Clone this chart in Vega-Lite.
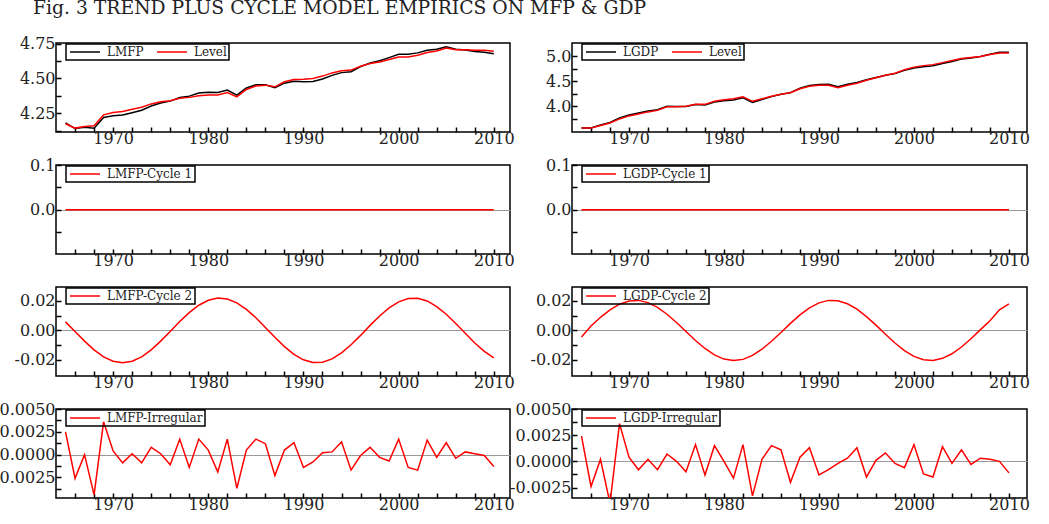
{
  "$schema": "https://vega.github.io/schema/vega-lite/v6.json",
  "autosize": {"type": "pad"},
  "padding": {"left": -8, "top": -1, "right": 0, "bottom": 0},
  "background": "white",
  "title": {"text": "Fig. 3 TREND PLUS CYCLE MODEL EMPIRICS ON MFP & GDP", "anchor": "start", "frame": "group", "font": "DejaVu Serif", "fontSize": 18.75, "fontWeight": "normal", "color": "#222222", "dx": -23, "offset": 17},
  "datasets": {
    "mfp": [
      {"year":1965,"LMFP":4.181,"Level":4.174,"LMFP-Cycle 1":0,"LMFP-Cycle 2":0.0058,"LMFP-Irregular":0.0025},
      {"year":1966,"LMFP":4.140,"Level":4.143,"LMFP-Cycle 1":0,"LMFP-Cycle 2":-0.0007,"LMFP-Irregular":-0.0026},
      {"year":1967,"LMFP":4.149,"Level":4.155,"LMFP-Cycle 1":0,"LMFP-Cycle 2":-0.0073,"LMFP-Irregular":0.0000},
      {"year":1968,"LMFP":4.142,"Level":4.160,"LMFP-Cycle 1":0,"LMFP-Cycle 2":-0.0132,"LMFP-Irregular":-0.0044},
      {"year":1969,"LMFP":4.220,"Level":4.238,"LMFP-Cycle 1":0,"LMFP-Cycle 2":-0.0180,"LMFP-Irregular":0.0036},
      {"year":1970,"LMFP":4.232,"Level":4.255,"LMFP-Cycle 1":0,"LMFP-Cycle 2":-0.0210,"LMFP-Irregular":0.0004},
      {"year":1971,"LMFP":4.238,"Level":4.262,"LMFP-Cycle 1":0,"LMFP-Cycle 2":-0.0220,"LMFP-Irregular":-0.0009},
      {"year":1972,"LMFP":4.254,"Level":4.279,"LMFP-Cycle 1":0,"LMFP-Cycle 2":-0.0210,"LMFP-Irregular":0.0001},
      {"year":1973,"LMFP":4.271,"Level":4.293,"LMFP-Cycle 1":0,"LMFP-Cycle 2":-0.0180,"LMFP-Irregular":-0.0009},
      {"year":1974,"LMFP":4.302,"Level":4.317,"LMFP-Cycle 1":0,"LMFP-Cycle 2":-0.0132,"LMFP-Irregular":0.0008},
      {"year":1975,"LMFP":4.324,"Level":4.333,"LMFP-Cycle 1":0,"LMFP-Cycle 2":-0.0073,"LMFP-Irregular":0.0001},
      {"year":1976,"LMFP":4.337,"Level":4.340,"LMFP-Cycle 1":0,"LMFP-Cycle 2":-0.0007,"LMFP-Irregular":-0.0011},
      {"year":1977,"LMFP":4.363,"Level":4.357,"LMFP-Cycle 1":0,"LMFP-Cycle 2":0.0060,"LMFP-Irregular":0.0017},
      {"year":1978,"LMFP":4.373,"Level":4.364,"LMFP-Cycle 1":0,"LMFP-Cycle 2":0.0121,"LMFP-Irregular":-0.0014},
      {"year":1979,"LMFP":4.395,"Level":4.376,"LMFP-Cycle 1":0,"LMFP-Cycle 2":0.0171,"LMFP-Irregular":0.0017},
      {"year":1980,"LMFP":4.400,"Level":4.381,"LMFP-Cycle 1":0,"LMFP-Cycle 2":0.0205,"LMFP-Irregular":0.0005},
      {"year":1981,"LMFP":4.399,"Level":4.381,"LMFP-Cycle 1":0,"LMFP-Cycle 2":0.0220,"LMFP-Irregular":-0.0019},
      {"year":1982,"LMFP":4.417,"Level":4.398,"LMFP-Cycle 1":0,"LMFP-Cycle 2":0.0213,"LMFP-Irregular":0.0017},
      {"year":1983,"LMFP":4.380,"Level":4.367,"LMFP-Cycle 1":0,"LMFP-Cycle 2":0.0187,"LMFP-Irregular":-0.0037},
      {"year":1984,"LMFP":4.432,"Level":4.421,"LMFP-Cycle 1":0,"LMFP-Cycle 2":0.0143,"LMFP-Irregular":0.0005},
      {"year":1985,"LMFP":4.454,"Level":4.445,"LMFP-Cycle 1":0,"LMFP-Cycle 2":0.0086,"LMFP-Irregular":0.0017},
      {"year":1986,"LMFP":4.455,"Level":4.452,"LMFP-Cycle 1":0,"LMFP-Cycle 2":0.0020,"LMFP-Irregular":0.0012},
      {"year":1987,"LMFP":4.434,"Level":4.440,"LMFP-Cycle 1":0,"LMFP-Cycle 2":-0.0047,"LMFP-Irregular":-0.0023},
      {"year":1988,"LMFP":4.466,"Level":4.476,"LMFP-Cycle 1":0,"LMFP-Cycle 2":-0.0110,"LMFP-Irregular":0.0005},
      {"year":1989,"LMFP":4.480,"Level":4.493,"LMFP-Cycle 1":0,"LMFP-Cycle 2":-0.0163,"LMFP-Irregular":0.0013},
      {"year":1990,"LMFP":4.477,"Level":4.495,"LMFP-Cycle 1":0,"LMFP-Cycle 2":-0.0200,"LMFP-Irregular":-0.0014},
      {"year":1991,"LMFP":4.478,"Level":4.500,"LMFP-Cycle 1":0,"LMFP-Cycle 2":-0.0218,"LMFP-Irregular":-0.0008},
      {"year":1992,"LMFP":4.496,"Level":4.517,"LMFP-Cycle 1":0,"LMFP-Cycle 2":-0.0216,"LMFP-Irregular":0.0002},
      {"year":1993,"LMFP":4.522,"Level":4.540,"LMFP-Cycle 1":0,"LMFP-Cycle 2":-0.0194,"LMFP-Irregular":0.0003},
      {"year":1994,"LMFP":4.542,"Level":4.555,"LMFP-Cycle 1":0,"LMFP-Cycle 2":-0.0153,"LMFP-Irregular":0.0014},
      {"year":1995,"LMFP":4.549,"Level":4.560,"LMFP-Cycle 1":0,"LMFP-Cycle 2":-0.0098,"LMFP-Irregular":-0.0017},
      {"year":1996,"LMFP":4.585,"Level":4.588,"LMFP-Cycle 1":0,"LMFP-Cycle 2":-0.0034,"LMFP-Irregular":-0.0001},
      {"year":1997,"LMFP":4.611,"Level":4.607,"LMFP-Cycle 1":0,"LMFP-Cycle 2":0.0034,"LMFP-Irregular":0.0008},
      {"year":1998,"LMFP":4.627,"Level":4.619,"LMFP-Cycle 1":0,"LMFP-Cycle 2":0.0098,"LMFP-Irregular":-0.0003},
      {"year":1999,"LMFP":4.650,"Level":4.636,"LMFP-Cycle 1":0,"LMFP-Cycle 2":0.0153,"LMFP-Irregular":-0.0007},
      {"year":2000,"LMFP":4.674,"Level":4.655,"LMFP-Cycle 1":0,"LMFP-Cycle 2":0.0194,"LMFP-Irregular":0.0017},
      {"year":2001,"LMFP":4.674,"Level":4.655,"LMFP-Cycle 1":0,"LMFP-Cycle 2":0.0216,"LMFP-Irregular":-0.0014},
      {"year":2002,"LMFP":4.684,"Level":4.667,"LMFP-Cycle 1":0,"LMFP-Cycle 2":0.0218,"LMFP-Irregular":-0.0017},
      {"year":2003,"LMFP":4.703,"Level":4.686,"LMFP-Cycle 1":0,"LMFP-Cycle 2":0.0200,"LMFP-Irregular":0.0016},
      {"year":2004,"LMFP":4.710,"Level":4.698,"LMFP-Cycle 1":0,"LMFP-Cycle 2":0.0162,"LMFP-Irregular":-0.0003},
      {"year":2005,"LMFP":4.727,"Level":4.719,"LMFP-Cycle 1":0,"LMFP-Cycle 2":0.0110,"LMFP-Irregular":0.0013},
      {"year":2006,"LMFP":4.710,"Level":4.707,"LMFP-Cycle 1":0,"LMFP-Cycle 2":0.0047,"LMFP-Irregular":-0.0004},
      {"year":2007,"LMFP":4.705,"Level":4.707,"LMFP-Cycle 1":0,"LMFP-Cycle 2":-0.0020,"LMFP-Irregular":0.0003},
      {"year":2008,"LMFP":4.694,"Level":4.702,"LMFP-Cycle 1":0,"LMFP-Cycle 2":-0.0086,"LMFP-Irregular":0.0001},
      {"year":2009,"LMFP":4.688,"Level":4.702,"LMFP-Cycle 1":0,"LMFP-Cycle 2":-0.0143,"LMFP-Irregular":-0.0001},
      {"year":2010,"LMFP":4.677,"Level":4.695,"LMFP-Cycle 1":0,"LMFP-Cycle 2":-0.0187,"LMFP-Irregular":-0.0013}
    ],
    "gdp": [
      {"year":1965,"LGDP":3.568,"Level":3.570,"LGDP-Cycle 1":0,"LGDP-Cycle 2":-0.0045,"LGDP-Irregular":0.0024},
      {"year":1966,"LGDP":3.571,"Level":3.570,"LGDP-Cycle 1":0,"LGDP-Cycle 2":0.0030,"LGDP-Irregular":-0.0024},
      {"year":1967,"LGDP":3.629,"Level":3.620,"LGDP-Cycle 1":0,"LGDP-Cycle 2":0.0089,"LGDP-Irregular":0.0002},
      {"year":1968,"LGDP":3.680,"Level":3.670,"LGDP-Cycle 1":0,"LGDP-Cycle 2":0.0140,"LGDP-Irregular":-0.0040},
      {"year":1969,"LGDP":3.771,"Level":3.750,"LGDP-Cycle 1":0,"LGDP-Cycle 2":0.0178,"LGDP-Irregular":0.0036},
      {"year":1970,"LGDP":3.830,"Level":3.810,"LGDP-Cycle 1":0,"LGDP-Cycle 2":0.0200,"LGDP-Irregular":0.0004},
      {"year":1971,"LGDP":3.870,"Level":3.850,"LGDP-Cycle 1":0,"LGDP-Cycle 2":0.0204,"LGDP-Irregular":-0.0008},
      {"year":1972,"LGDP":3.909,"Level":3.890,"LGDP-Cycle 1":0,"LGDP-Cycle 2":0.0189,"LGDP-Irregular":0.0002},
      {"year":1973,"LGDP":3.935,"Level":3.920,"LGDP-Cycle 1":0,"LGDP-Cycle 2":0.0157,"LGDP-Irregular":-0.0008},
      {"year":1974,"LGDP":4.002,"Level":3.990,"LGDP-Cycle 1":0,"LGDP-Cycle 2":0.0110,"LGDP-Irregular":0.0007},
      {"year":1975,"LGDP":3.995,"Level":3.990,"LGDP-Cycle 1":0,"LGDP-Cycle 2":0.0054,"LGDP-Irregular":0.0000},
      {"year":1976,"LGDP":3.998,"Level":4.000,"LGDP-Cycle 1":0,"LGDP-Cycle 2":-0.0008,"LGDP-Irregular":-0.0010},
      {"year":1977,"LGDP":4.035,"Level":4.040,"LGDP-Cycle 1":0,"LGDP-Cycle 2":-0.0069,"LGDP-Irregular":0.0016},
      {"year":1978,"LGDP":4.026,"Level":4.040,"LGDP-Cycle 1":0,"LGDP-Cycle 2":-0.0123,"LGDP-Irregular":-0.0013},
      {"year":1979,"LGDP":4.085,"Level":4.100,"LGDP-Cycle 1":0,"LGDP-Cycle 2":-0.0166,"LGDP-Irregular":0.0015},
      {"year":1980,"LGDP":4.110,"Level":4.130,"LGDP-Cycle 1":0,"LGDP-Cycle 2":-0.0195,"LGDP-Irregular":0.0000},
      {"year":1981,"LGDP":4.128,"Level":4.150,"LGDP-Cycle 1":0,"LGDP-Cycle 2":-0.0205,"LGDP-Irregular":-0.0016},
      {"year":1982,"LGDP":4.172,"Level":4.190,"LGDP-Cycle 1":0,"LGDP-Cycle 2":-0.0197,"LGDP-Irregular":0.0016},
      {"year":1983,"LGDP":4.080,"Level":4.100,"LGDP-Cycle 1":0,"LGDP-Cycle 2":-0.0170,"LGDP-Irregular":-0.0033},
      {"year":1984,"LGDP":4.137,"Level":4.150,"LGDP-Cycle 1":0,"LGDP-Cycle 2":-0.0128,"LGDP-Irregular":0.0002},
      {"year":1985,"LGDP":4.194,"Level":4.200,"LGDP-Cycle 1":0,"LGDP-Cycle 2":-0.0074,"LGDP-Irregular":0.0015},
      {"year":1986,"LGDP":4.240,"Level":4.240,"LGDP-Cycle 1":0,"LGDP-Cycle 2":-0.0014,"LGDP-Irregular":0.0011},
      {"year":1987,"LGDP":4.273,"Level":4.270,"LGDP-Cycle 1":0,"LGDP-Cycle 2":0.0048,"LGDP-Irregular":-0.0020},
      {"year":1988,"LGDP":4.361,"Level":4.350,"LGDP-Cycle 1":0,"LGDP-Cycle 2":0.0105,"LGDP-Irregular":0.0004},
      {"year":1989,"LGDP":4.417,"Level":4.400,"LGDP-Cycle 1":0,"LGDP-Cycle 2":0.0153,"LGDP-Irregular":0.0013},
      {"year":1990,"LGDP":4.437,"Level":4.420,"LGDP-Cycle 1":0,"LGDP-Cycle 2":0.0187,"LGDP-Irregular":-0.0013},
      {"year":1991,"LGDP":4.440,"Level":4.420,"LGDP-Cycle 1":0,"LGDP-Cycle 2":0.0204,"LGDP-Irregular":-0.0008},
      {"year":1992,"LGDP":4.390,"Level":4.370,"LGDP-Cycle 1":0,"LGDP-Cycle 2":0.0202,"LGDP-Irregular":-0.0002},
      {"year":1993,"LGDP":4.438,"Level":4.420,"LGDP-Cycle 1":0,"LGDP-Cycle 2":0.0181,"LGDP-Irregular":0.0003},
      {"year":1994,"LGDP":4.476,"Level":4.460,"LGDP-Cycle 1":0,"LGDP-Cycle 2":0.0144,"LGDP-Irregular":0.0013},
      {"year":1995,"LGDP":4.528,"Level":4.520,"LGDP-Cycle 1":0,"LGDP-Cycle 2":0.0094,"LGDP-Irregular":-0.0015},
      {"year":1996,"LGDP":4.574,"Level":4.570,"LGDP-Cycle 1":0,"LGDP-Cycle 2":0.0036,"LGDP-Irregular":0.0001},
      {"year":1997,"LGDP":4.618,"Level":4.620,"LGDP-Cycle 1":0,"LGDP-Cycle 2":-0.0026,"LGDP-Irregular":0.0008},
      {"year":1998,"LGDP":4.651,"Level":4.660,"LGDP-Cycle 1":0,"LGDP-Cycle 2":-0.0086,"LGDP-Irregular":-0.0002},
      {"year":1999,"LGDP":4.716,"Level":4.730,"LGDP-Cycle 1":0,"LGDP-Cycle 2":-0.0138,"LGDP-Irregular":-0.0006},
      {"year":2000,"LGDP":4.764,"Level":4.780,"LGDP-Cycle 1":0,"LGDP-Cycle 2":-0.0177,"LGDP-Irregular":0.0016},
      {"year":2001,"LGDP":4.789,"Level":4.810,"LGDP-Cycle 1":0,"LGDP-Cycle 2":-0.0200,"LGDP-Irregular":-0.0012},
      {"year":2002,"LGDP":4.808,"Level":4.830,"LGDP-Cycle 1":0,"LGDP-Cycle 2":-0.0204,"LGDP-Irregular":-0.0015},
      {"year":2003,"LGDP":4.852,"Level":4.870,"LGDP-Cycle 1":0,"LGDP-Cycle 2":-0.0190,"LGDP-Irregular":0.0014},
      {"year":2004,"LGDP":4.894,"Level":4.910,"LGDP-Cycle 1":0,"LGDP-Cycle 2":-0.0159,"LGDP-Irregular":-0.0002},
      {"year":2005,"LGDP":4.940,"Level":4.950,"LGDP-Cycle 1":0,"LGDP-Cycle 2":-0.0113,"LGDP-Irregular":0.0011},
      {"year":2006,"LGDP":4.964,"Level":4.970,"LGDP-Cycle 1":0,"LGDP-Cycle 2":-0.0057,"LGDP-Irregular":-0.0003},
      {"year":2007,"LGDP":4.991,"Level":4.990,"LGDP-Cycle 1":0,"LGDP-Cycle 2":0.0005,"LGDP-Irregular":0.0003},
      {"year":2008,"LGDP":5.037,"Level":5.030,"LGDP-Cycle 1":0,"LGDP-Cycle 2":0.0066,"LGDP-Irregular":0.0002},
      {"year":2009,"LGDP":5.074,"Level":5.060,"LGDP-Cycle 1":0,"LGDP-Cycle 2":0.0140,"LGDP-Irregular":0.0000},
      {"year":2010,"LGDP":5.077,"Level":5.060,"LGDP-Cycle 1":0,"LGDP-Cycle 2":0.0180,"LGDP-Irregular":-0.0011}
    ]
  },
  "columns": 2,
  "concat": [
    {
      "width": 454, "height": 89,
      "data": {"name": "mfp"},
      "transform": [{"fold": ["LMFP", "Level"], "as": ["series", "value"]}],
      "mark": {"type": "line", "strokeWidth": 1.5, "clip": true},
      "encoding": {
        "x": {"field": "year", "type": "quantitative", "scale": {"domain": [1964, 2011.7], "nice": false, "zero": false}, "axis": {"title": null, "values": [1966,1968,1970,1972,1974,1976,1978,1980,1982,1984,1986,1988,1990,1992,1994,1996,1998,2000,2002,2004,2006,2008,2010], "format": "d", "labelExpr": "datum.value % 10 == 0 ? datum.label : ''"}},
        "y": {"field": "value", "type": "quantitative", "scale": {"domain": [4.115, 4.755], "nice": false, "zero": false}, "axis": {"title": null, "grid": false, "values": [4.125, 4.25, 4.375, 4.5, 4.625, 4.75], "format": ".2f", "labelExpr": "abs(datum.value / 0.25 - round(datum.value / 0.25)) < 0.001 ? datum.label : ''"}},
        "color": {"field": "series", "type": "nominal", "scale": {"domain": ["LMFP", "Level"], "range": ["#000000", "#ff0000"]}, "legend": {"title": null}}
      }
    },
    {
      "width": 455, "height": 89,
      "data": {"name": "gdp"},
      "transform": [{"fold": ["LGDP", "Level"], "as": ["series", "value"]}],
      "mark": {"type": "line", "strokeWidth": 1.5, "clip": true},
      "encoding": {
        "x": {"field": "year", "type": "quantitative", "scale": {"domain": [1964, 2011.9], "nice": false, "zero": false}, "axis": {"title": null, "values": [1966,1968,1970,1972,1974,1976,1978,1980,1982,1984,1986,1988,1990,1992,1994,1996,1998,2000,2002,2004,2006,2008,2010], "format": "d", "labelExpr": "datum.value % 10 == 0 ? datum.label : ''"}},
        "y": {"field": "value", "type": "quantitative", "scale": {"domain": [3.49, 5.26], "nice": false, "zero": false}, "axis": {"title": null, "grid": false, "values": [3.75, 4, 4.25, 4.5, 4.75, 5], "format": ".1f", "labelExpr": "abs(datum.value / 0.5 - round(datum.value / 0.5)) < 0.001 ? datum.label : ''"}},
        "color": {"field": "series", "type": "nominal", "scale": {"domain": ["LGDP", "Level"], "range": ["#000000", "#ff0000"]}, "legend": {"title": null}}
      }
    },
    {
      "width": 454, "height": 89,
      "data": {"name": "mfp"},
      "transform": [{"fold": ["LMFP-Cycle 1"], "as": ["series", "value"]}],
      "mark": {"type": "line", "strokeWidth": 1.5, "clip": true},
      "encoding": {
        "x": {"field": "year", "type": "quantitative", "scale": {"domain": [1964, 2011.7], "nice": false, "zero": false}, "axis": {"title": null, "values": [1966,1968,1970,1972,1974,1976,1978,1980,1982,1984,1986,1988,1990,1992,1994,1996,1998,2000,2002,2004,2006,2008,2010], "format": "d", "labelExpr": "datum.value % 10 == 0 ? datum.label : ''"}},
        "y": {"field": "value", "type": "quantitative", "scale": {"domain": [-0.099, 0.1], "nice": false, "zero": false}, "axis": {"title": null, "grid": true, "gridColor": "#999999", "gridWidth": 1, "gridOpacity": {"condition": {"test": "datum.value == 0", "value": 1}, "value": 0}, "values": [-0.05, 0, 0.05, 0.1], "format": ".1f", "labelExpr": "abs(datum.value / 0.1 - round(datum.value / 0.1)) < 0.001 ? datum.label : ''"}},
        "color": {"field": "series", "type": "nominal", "scale": {"domain": ["LMFP-Cycle 1"], "range": ["#ff0000"]}, "legend": {"title": null}}
      }
    },
    {
      "width": 455, "height": 89,
      "data": {"name": "gdp"},
      "transform": [{"fold": ["LGDP-Cycle 1"], "as": ["series", "value"]}],
      "mark": {"type": "line", "strokeWidth": 1.5, "clip": true},
      "encoding": {
        "x": {"field": "year", "type": "quantitative", "scale": {"domain": [1964, 2011.9], "nice": false, "zero": false}, "axis": {"title": null, "values": [1966,1968,1970,1972,1974,1976,1978,1980,1982,1984,1986,1988,1990,1992,1994,1996,1998,2000,2002,2004,2006,2008,2010], "format": "d", "labelExpr": "datum.value % 10 == 0 ? datum.label : ''"}},
        "y": {"field": "value", "type": "quantitative", "scale": {"domain": [-0.099, 0.1], "nice": false, "zero": false}, "axis": {"title": null, "grid": true, "gridColor": "#999999", "gridWidth": 1, "gridOpacity": {"condition": {"test": "datum.value == 0", "value": 1}, "value": 0}, "values": [-0.05, 0, 0.05, 0.1], "format": ".1f", "labelExpr": "abs(datum.value / 0.1 - round(datum.value / 0.1)) < 0.001 ? datum.label : ''"}},
        "color": {"field": "series", "type": "nominal", "scale": {"domain": ["LGDP-Cycle 1"], "range": ["#ff0000"]}, "legend": {"title": null}}
      }
    },
    {
      "width": 454, "height": 89,
      "data": {"name": "mfp"},
      "transform": [{"fold": ["LMFP-Cycle 2"], "as": ["series", "value"]}],
      "mark": {"type": "line", "strokeWidth": 1.5, "clip": true},
      "encoding": {
        "x": {"field": "year", "type": "quantitative", "scale": {"domain": [1964, 2011.7], "nice": false, "zero": false}, "axis": {"title": null, "values": [1966,1968,1970,1972,1974,1976,1978,1980,1982,1984,1986,1988,1990,1992,1994,1996,1998,2000,2002,2004,2006,2008,2010], "format": "d", "labelExpr": "datum.value % 10 == 0 ? datum.label : ''"}},
        "y": {"field": "value", "type": "quantitative", "scale": {"domain": [-0.031, 0.0295], "nice": false, "zero": false}, "axis": {"title": null, "grid": true, "gridColor": "#999999", "gridWidth": 1, "gridOpacity": {"condition": {"test": "datum.value == 0", "value": 1}, "value": 0}, "values": [-0.02, -0.01, 0, 0.01, 0.02], "format": ".2f", "labelExpr": "abs(datum.value / 0.02 - round(datum.value / 0.02)) < 0.001 ? replace(datum.label, '\u2212', '-') : ''"}},
        "color": {"field": "series", "type": "nominal", "scale": {"domain": ["LMFP-Cycle 2"], "range": ["#ff0000"]}, "legend": {"title": null}}
      }
    },
    {
      "width": 455, "height": 89,
      "data": {"name": "gdp"},
      "transform": [{"fold": ["LGDP-Cycle 2"], "as": ["series", "value"]}],
      "mark": {"type": "line", "strokeWidth": 1.5, "clip": true},
      "encoding": {
        "x": {"field": "year", "type": "quantitative", "scale": {"domain": [1964, 2011.9], "nice": false, "zero": false}, "axis": {"title": null, "values": [1966,1968,1970,1972,1974,1976,1978,1980,1982,1984,1986,1988,1990,1992,1994,1996,1998,2000,2002,2004,2006,2008,2010], "format": "d", "labelExpr": "datum.value % 10 == 0 ? datum.label : ''"}},
        "y": {"field": "value", "type": "quantitative", "scale": {"domain": [-0.031, 0.0295], "nice": false, "zero": false}, "axis": {"title": null, "grid": true, "gridColor": "#999999", "gridWidth": 1, "gridOpacity": {"condition": {"test": "datum.value == 0", "value": 1}, "value": 0}, "values": [-0.02, -0.01, 0, 0.01, 0.02], "format": ".2f", "labelExpr": "abs(datum.value / 0.02 - round(datum.value / 0.02)) < 0.001 ? replace(datum.label, '\u2212', '-') : ''"}},
        "color": {"field": "series", "type": "nominal", "scale": {"domain": ["LGDP-Cycle 2"], "range": ["#ff0000"]}, "legend": {"title": null}}
      }
    },
    {
      "width": 454, "height": 89,
      "data": {"name": "mfp"},
      "transform": [{"fold": ["LMFP-Irregular"], "as": ["series", "value"]}],
      "mark": {"type": "line", "strokeWidth": 1.5, "clip": true},
      "encoding": {
        "x": {"field": "year", "type": "quantitative", "scale": {"domain": [1964, 2011.7], "nice": false, "zero": false}, "axis": {"title": null, "values": [1966,1968,1970,1972,1974,1976,1978,1980,1982,1984,1986,1988,1990,1992,1994,1996,1998,2000,2002,2004,2006,2008,2010], "format": "d", "labelExpr": "datum.value % 10 == 0 ? datum.label : ''"}},
        "y": {"field": "value", "type": "quantitative", "scale": {"domain": [-0.00475, 0.005], "nice": false, "zero": false}, "axis": {"title": null, "grid": true, "gridColor": "#999999", "gridWidth": 1, "gridOpacity": {"condition": {"test": "datum.value == 0", "value": 1}, "value": 0}, "values": [-0.00375, -0.0025, -0.00125, 0, 0.00125, 0.0025, 0.00375, 0.005], "format": ".4f", "labelExpr": "abs(datum.value / 0.0025 - round(datum.value / 0.0025)) < 0.001 ? replace(datum.label, '\u2212', '-') : ''"}},
        "color": {"field": "series", "type": "nominal", "scale": {"domain": ["LMFP-Irregular"], "range": ["#ff0000"]}, "legend": {"title": null}}
      }
    },
    {
      "width": 455, "height": 89,
      "data": {"name": "gdp"},
      "transform": [{"fold": ["LGDP-Irregular"], "as": ["series", "value"]}],
      "mark": {"type": "line", "strokeWidth": 1.5, "clip": true},
      "encoding": {
        "x": {"field": "year", "type": "quantitative", "scale": {"domain": [1964, 2011.9], "nice": false, "zero": false}, "axis": {"title": null, "values": [1966,1968,1970,1972,1974,1976,1978,1980,1982,1984,1986,1988,1990,1992,1994,1996,1998,2000,2002,2004,2006,2008,2010], "format": "d", "labelExpr": "datum.value % 10 == 0 ? datum.label : ''"}},
        "y": {"field": "value", "type": "quantitative", "scale": {"domain": [-0.0035, 0.005], "nice": false, "zero": false}, "axis": {"title": null, "grid": true, "gridColor": "#999999", "gridWidth": 1, "gridOpacity": {"condition": {"test": "datum.value == 0", "value": 1}, "value": 0}, "values": [-0.0025, -0.00125, 0, 0.00125, 0.0025, 0.00375, 0.005], "format": ".4f", "labelExpr": "abs(datum.value / 0.0025 - round(datum.value / 0.0025)) < 0.001 ? replace(datum.label, '\u2212', '-') : ''"}},
        "color": {"field": "series", "type": "nominal", "scale": {"domain": ["LGDP-Irregular"], "range": ["#ff0000"]}, "legend": {"title": null}}
      }
    }
  ],
  "spacing": {"row": 33, "column": 62},
  "bounds": "flush",
  "resolve": {"scale": {"color": "independent"}, "legend": {"color": "independent"}},
  "config": {
    "view": {"stroke": "#000000", "strokeWidth": 1.5},
    "axis": {"domain": false, "grid": false, "labelFont": "DejaVu Serif", "labelFontSize": 16, "labelColor": "#222222", "tickColor": "#000000", "tickSize": -5, "tickWidth": 1.5, "labelOverlap": false, "labelFlush": false},
    "axisX": {"labelPadding": 3},
    "axisY": {"labelPadding": 6},
    "legend": {"orient": "none", "legendX": 10, "legendY": 1, "direction": "horizontal", "symbolType": "M-1,0H6.5", "symbolSize": 64, "symbolStrokeWidth": 1.5, "labelFont": "DejaVu Serif", "labelFontSize": 12, "labelColor": "#222222", "labelOffset": 27, "strokeColor": "#000000", "strokeWidth": 1.5, "padding": 2, "columnPadding": 10, "symbolOffset": 0}
  }
}
